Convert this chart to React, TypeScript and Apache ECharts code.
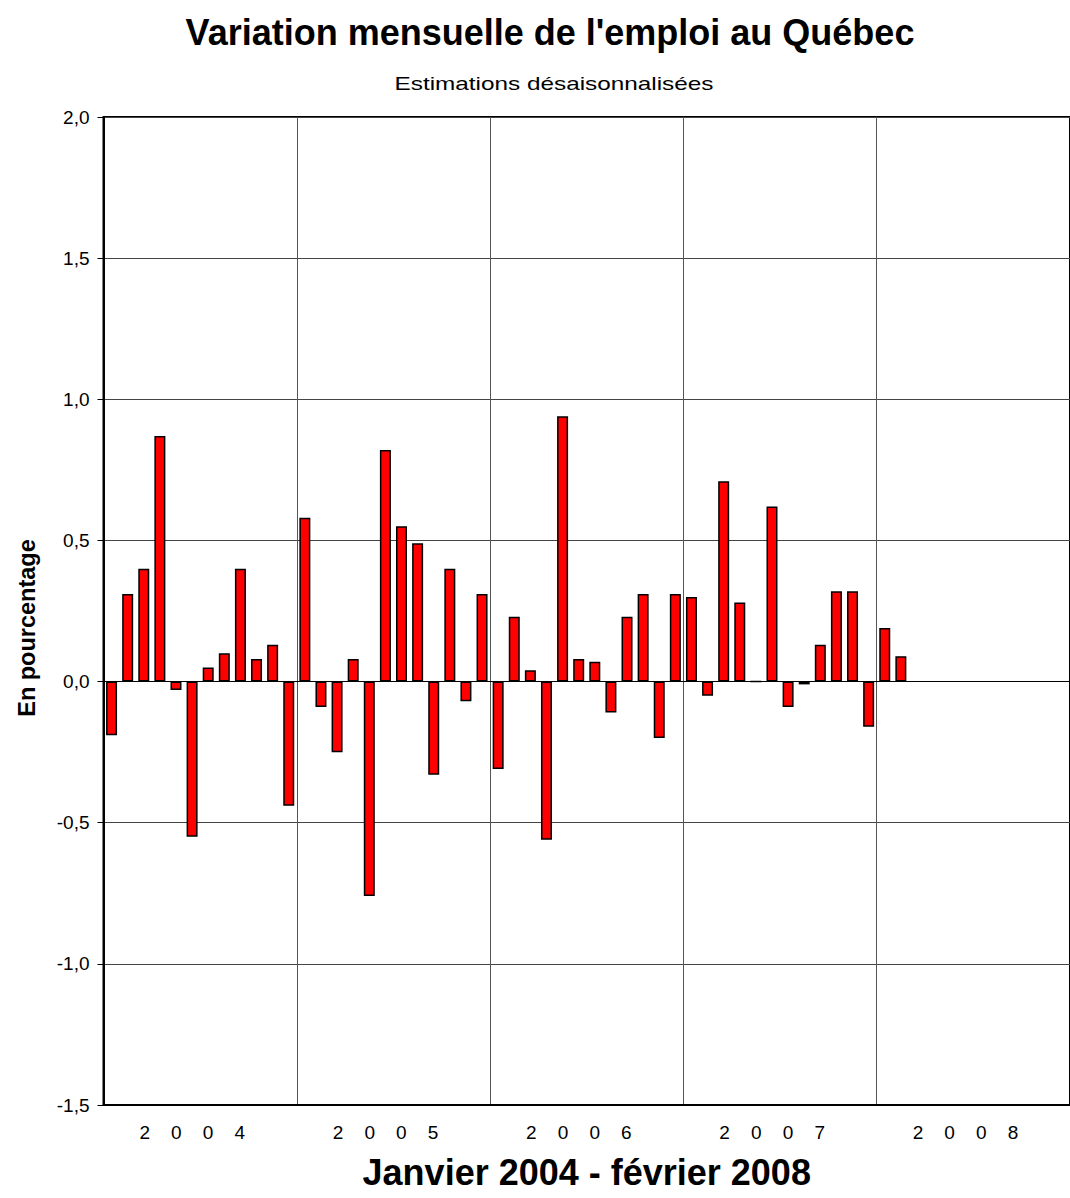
import React, { useEffect, useRef } from "react";
import * as echarts from "echarts";

const years = ["2004", "2005", "2006", "2007", "2008"];
const monthNames = ["janv", "févr", "mars", "avr", "mai", "juin", "juil", "août", "sept", "oct", "nov", "déc"];
const categories = years.flatMap((y) => monthNames.map((m) => `${m} ${y}`));

// Monthly % change of employment, Jan 2004 - Feb 2008
const values2004 = [-0.19, 0.31, 0.4, 0.87, -0.03, -0.55, 0.05, 0.1, 0.4, 0.08, 0.13, -0.44];
const values2005 = [0.58, -0.09, -0.25, 0.08, -0.76, 0.82, 0.55, 0.49, -0.33, 0.4, -0.07, 0.31];
const values2006 = [-0.31, 0.23, 0.04, -0.56, 0.94, 0.08, 0.07, -0.11, 0.23, 0.31, -0.2, 0.31];
const values2007 = [0.3, -0.05, 0.71, 0.28, 0.0, 0.62, -0.09, -0.01, 0.13, 0.32, 0.32, -0.16];
const values2008 = [0.19, 0.09];

const yTicks = { min: -1.5, max: 2.0, interval: 0.5 };

const FONT = "'Liberation Sans', Arial, sans-serif";

export default function App() {
  const ref = useRef<HTMLDivElement>(null);
  useEffect(() => {
    if (!ref.current) return;
    const chart = echarts.init(ref.current, null, { renderer: "svg" });
    const values: (number | null)[] = [...values2004, ...values2005, ...values2006, ...values2007, ...values2008];
    while (values.length < categories.length) values.push(null);
    chart.setOption({
      animation: false,
      backgroundColor: "#ffffff",
      textStyle: { fontFamily: FONT },
      title: [
        {
          text: "Variation mensuelle de l'emploi au Québec",
          left: 545,
          top: 9,
          textAlign: "center",
          textStyle: { fontFamily: FONT, fontSize: 36, fontWeight: "bold", color: "#000" },
        },
      ],
      graphic: [
        {
          type: "text",
          x: 554,
          y: 83,
          scaleX: 1.28,
          style: {
            text: "Estimations désaisonnalisées",
            fontFamily: FONT,
            fontSize: 19,
            fontWeight: "normal",
            fill: "#000",
            align: "center",
            verticalAlign: "middle",
          },
        },
        {
          type: "text",
          x: 27,
          y: 628,
          rotation: Math.PI / 2,
          style: {
            text: "En pourcentage",
            fontFamily: FONT,
            fontSize: 23.5,
            fontWeight: "bold",
            fill: "#000",
            align: "center",
            verticalAlign: "middle",
          },
        },
      ],
      grid: {
        left: 103.5,
        right: -12,
        top: 117,
        bottom: 93,
        show: true,
        borderColor: "#000",
        borderWidth: 2,
        containLabel: false,
      },
      xAxis: [
        {
          type: "category",
          data: categories,
          position: "bottom",
          axisLine: { show: true, onZero: false, lineStyle: { color: "#000", width: 2 } },
          axisTick: { show: false },
          axisLabel: { show: false },
          splitLine: { show: false },
          name: "Janvier 2004 - février 2008",
          nameLocation: "middle",
          nameGap: 49,
          nameTextStyle: { fontFamily: FONT, fontSize: 36, fontWeight: "bold", color: "#000" },
        },
        {
          type: "category",
          data: years,
          position: "bottom",
          axisLine: { show: false },
          axisTick: { show: false },
          axisLabel: {
            show: true,
            margin: 17.5,
            fontFamily: FONT,
            fontSize: 19,
            color: "#000",
            formatter: (v: string) => v.split("").join("    ") + "   ",
          },
          splitLine: { show: true, lineStyle: { color: "#555", width: 1 } },
        },
      ],
      yAxis: {
        type: "value",
        min: yTicks.min,
        max: yTicks.max,
        interval: yTicks.interval,
        axisLine: { show: true, onZero: false, lineStyle: { color: "#000", width: 2 } },
        axisTick: { show: true, inside: false, length: 6, lineStyle: { color: "#000", width: 1 } },
        axisLabel: {
          margin: 14,
          fontFamily: FONT,
          fontSize: 19,
          color: "#000",
          formatter: (v: number) => v.toFixed(1).replace(".", ","),
        },
        splitLine: { show: true, lineStyle: { color: "#444", width: 1 } },
      },
      series: [
        {
          type: "bar",
          xAxisIndex: 0,
          data: values,
          barWidth: 11,
          itemStyle: { color: "#ff0000", borderColor: "#000", borderWidth: 1.5 },
          markLine: {
            silent: true,
            symbol: "none",
            label: { show: false },
            lineStyle: { color: "#000", width: 1, type: "solid" },
            data: [{ yAxis: 0 }],
          },
        },
      ],
    });
    return () => chart.dispose();
  }, []);
  return (
    <div
      ref={ref}
      style={{ position: "absolute", left: 0, top: 0, width: 1070, height: 1198, overflow: "hidden" }}
    />
  );
}
